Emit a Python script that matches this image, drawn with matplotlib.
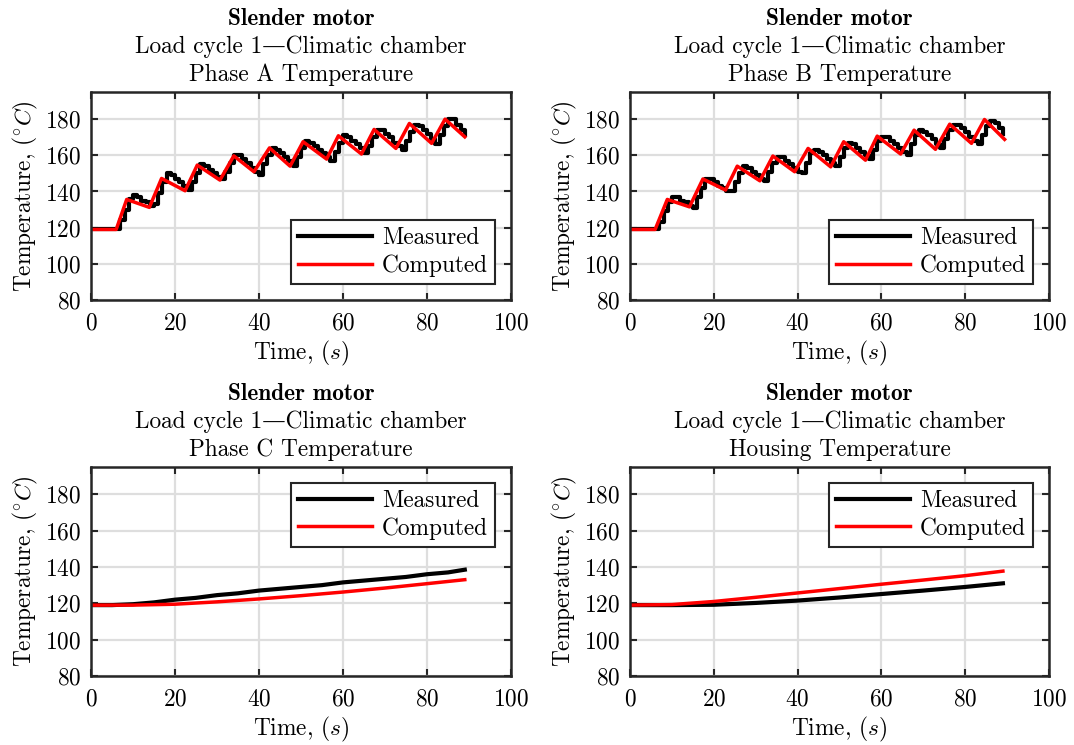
import matplotlib
matplotlib.use("Agg")
import matplotlib.pyplot as plt

plt.rcParams["font.family"] = ["cmr10", "DejaVu Serif"]
plt.rcParams["mathtext.fontset"] = "cm"
plt.rcParams["axes.unicode_minus"] = False
plt.rcParams["axes.formatter.use_mathtext"] = True

# ---- data ----------------------------------------------------------------
# Measured signals (1 s sampling, sensor resolution gives the staircase)
t_meas = list(range(90))

phase_a_measured = [
    119, 119, 119, 119, 119, 119, 119, 124, 130, 136,
    138, 137, 135, 134, 132, 133, 139, 145, 150, 149,
    147, 145, 143, 141, 145, 150, 155, 154, 152, 150,
    148, 147, 151, 156, 160, 160, 158, 156, 153, 151,
    149, 155, 160, 164, 163, 161, 159, 157, 154, 159,
    164, 168, 167, 165, 163, 161, 159, 157, 162, 167,
    171, 170, 168, 166, 164, 161, 165, 170, 174, 174,
    172, 170, 167, 165, 163, 168, 173, 177, 176, 174,
    172, 169, 166, 171, 176, 180, 180, 177, 174, 171,
]

phase_b_measured = [
    119, 119, 119, 119, 119, 119, 119, 123, 129, 134,
    137, 137, 135, 134, 132, 131, 137, 142, 147, 147,
    145, 143, 142, 140, 140, 145, 150, 154, 153, 151,
    149, 147, 146, 151, 156, 159, 159, 157, 155, 153,
    151, 150, 156, 161, 163, 162, 160, 158, 156, 154,
    159, 164, 167, 166, 164, 162, 160, 158, 163, 168,
    170, 170, 168, 166, 164, 162, 160, 166, 171, 174,
    173, 171, 169, 166, 164, 169, 174, 177, 177, 175,
    173, 170, 168, 166, 171, 176, 179, 178, 175, 172,
]

t_slow = [0, 5, 10, 15, 20, 25, 30, 35, 40, 45, 50, 55, 60, 65, 70, 75, 80, 85, 89]
phase_c_measured = [119, 119, 119.5, 120.5, 122, 123, 124.5, 125.5, 127, 128,
                    129, 130, 131.5, 132.5, 133.5, 134.5, 136, 137, 138.5]

t_model = [0, 10, 20, 30, 40, 50, 60, 70, 80, 89]
phase_c_computed = [119, 119, 119.5, 120.8, 122.4, 124.2, 126.2, 128.4, 130.8, 133]
housing_measured = [119, 119, 119.2, 120.2, 121.5, 123.2, 125.1, 127, 129, 131]
housing_computed = [119, 119.3, 121, 123.3, 125.7, 128.1, 130.5, 132.8, 135.2, 137.7]

# Computed winding temperatures (turning points of the thermal model)
t_phase_a = [0, 6, 8.5, 13.9, 16.8, 22.4, 25.3, 30.7, 34.0, 38.8, 42.5, 47.4,
             50.5, 56.1, 58.9, 64.4, 67.4, 72.6, 75.8, 81.1, 84.3, 89.0]
phase_a_computed = [119, 119, 135.6, 131.2, 147.2, 140.4, 154.6, 146.3, 159.7, 150.9,
                    164.1, 154.0, 167.5, 157.9, 170.8, 160.7, 174.3, 163.8, 177.6,
                    166.6, 180.0, 170.2]

t_phase_b = [0, 6, 8.9, 14.2, 17.4, 22.8, 25.6, 31.0, 34.1, 39.3, 42.5, 47.9,
             51.0, 56.2, 59.0, 64.6, 67.8, 72.9, 76.3, 81.5, 84.6, 89.4]
phase_b_computed = [119, 119, 135.6, 131.5, 146.9, 140.8, 154.0, 145.9, 159.6, 150.9,
                    163.8, 153.6, 167.5, 157.3, 170.6, 160.7, 173.9, 163.3, 177.2,
                    166.6, 179.8, 168.8]

subtitles = ["Phase A Temperature", "Phase B Temperature",
             "Phase C Temperature", "Housing Temperature"]
x_ticks = [0, 20, 40, 60, 80, 100]
y_ticks = [80, 100, 120, 140, 160, 180]

# ---- figure ----------------------------------------------------------------
W, H = 1074, 745
fig = plt.figure(figsize=(W / 100, H / 100), dpi=100)

def px_axes(left, top, right, bottom):
    return fig.add_axes([left / W, 1 - bottom / H, (right - left) / W, (bottom - top) / H])

boxes = [(91, 92, 511, 300), (630, 92, 1049, 300),
         (91, 467, 511, 676), (630, 467, 1049, 676)]
axes = [px_axes(*b) for b in boxes]

series = [
    (dict(x=t_meas, y=phase_a_measured, steps=True), dict(x=t_phase_a, y=phase_a_computed)),
    (dict(x=t_meas, y=phase_b_measured, steps=True), dict(x=t_phase_b, y=phase_b_computed)),
    (dict(x=t_slow, y=phase_c_measured, steps=False), dict(x=t_model, y=phase_c_computed)),
    (dict(x=t_model, y=housing_measured, steps=False), dict(x=t_model, y=housing_computed)),
]

FS = 16.8
for i, (ax, (meas, comp), sub) in enumerate(zip(axes, series, subtitles)):
    ax_h = boxes[i][3] - boxes[i][1]
    ax.plot(meas["x"], meas["y"], color="black", lw=3.0,
            drawstyle="steps-post" if meas["steps"] else "default", label="Measured")
    ax.plot(comp["x"], comp["y"], color="#ff0000", lw=2.5, label="Computed")
    ax.set_xlim(0, 100)
    ax.set_ylim(80, 195)
    ax.set_xticks(x_ticks)
    ax.set_yticks(y_ticks)
    ax.tick_params(direction="in", top=True, right=True, length=5, width=1.5,
                   labelsize=FS, color="#262626")
    ax.tick_params(axis="x", pad=9)
    ax.tick_params(axis="y", pad=7)
    ax.grid(True, color="#dedede", lw=1.6)
    ax.set_axisbelow(True)
    for s in ax.spines.values():
        s.set_linewidth(1.8)
        s.set_color("#262626")
    ax.set_xlabel("Time, $(s)$", fontsize=FS, labelpad=3)
    ax.set_ylabel(r"Temperature, $(^{\circ}C)$", fontsize=FS, labelpad=4)
    ax.text(0.5, 1.0 + 67 / ax_h, "Slender motor", transform=ax.transAxes, ha="center",
            va="baseline", fontsize=FS, family=["cmb10", "DejaVu Serif"])
    ax.text(0.5, 1.0 + 39 / ax_h, "Load cycle 1\u2014Climatic chamber", transform=ax.transAxes,
            ha="center", va="baseline", fontsize=FS)
    ax.text(0.5, 1.0 + 11 / ax_h, sub, transform=ax.transAxes, ha="center",
            va="baseline", fontsize=FS)
    leg = ax.legend(loc="lower right" if i < 2 else "upper right", fontsize=FS,
                    frameon=True, fancybox=False, edgecolor="#262626",
                    handlelength=3.2, handletextpad=0.4, borderaxespad=0.7,
                    borderpad=0.3, labelspacing=0.2, framealpha=1)
    leg.get_frame().set_linewidth(1.5)

fig.savefig("out.png", dpi=100)
